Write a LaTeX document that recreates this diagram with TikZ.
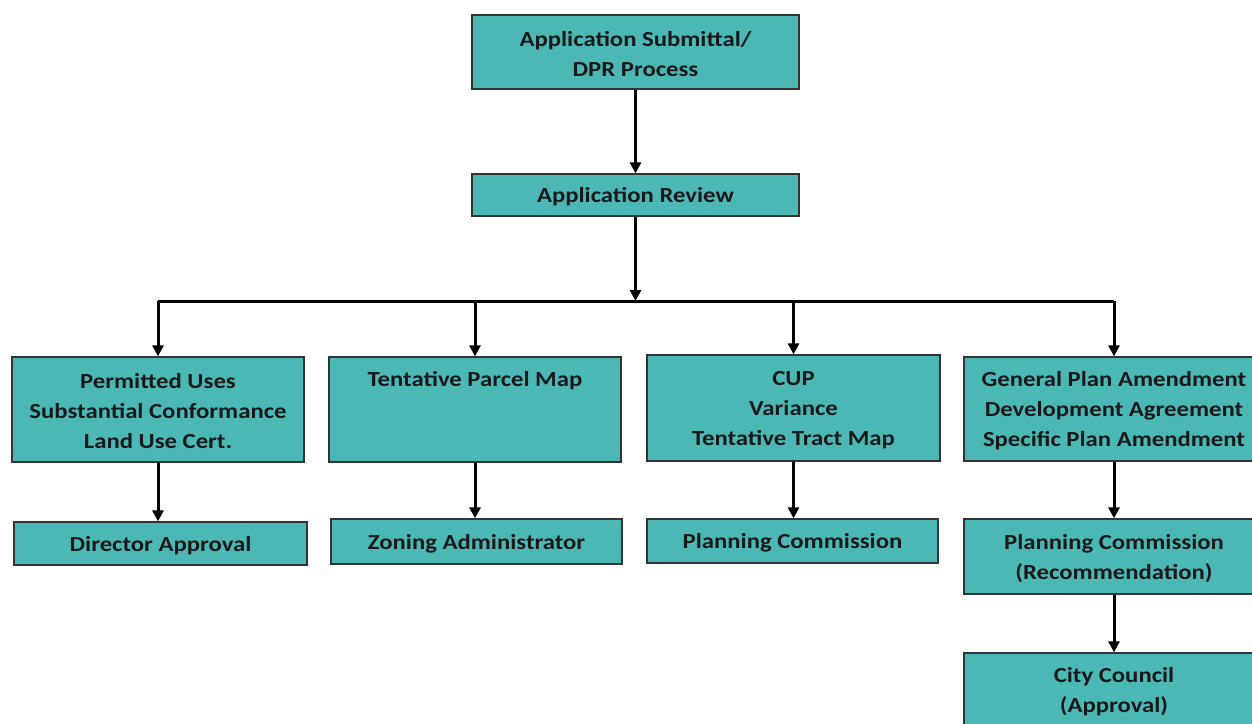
\documentclass[tikz,border=0pt]{standalone}
\usepackage{fontspec}
\setmainfont{Carlito}[FakeStretch=1.15]
\usetikzlibrary{arrows.meta}
\definecolor{tealbox}{HTML}{4BB8B6}
\newcommand{\lowr}{\rule{0pt}{19pt}}
\begin{document}
\begin{tikzpicture}[x=1pt,y=-1pt,
 box/.style={draw=black!80, fill=tealbox, line width=1.3pt, inner sep=0pt, align=center,
   font=\bfseries\fontsize{21.5}{30}\selectfont, text=black!90},
 arr/.style={line width=3pt, -{Triangle[length=11pt,width=11pt]}},
 busline/.style={line width=3pt}]
\useasboundingbox (0,0) rectangle (1252,723);
\clip (0,0) rectangle (1252,723);
\node[box, minimum width=327, minimum height=74] (sub) at (635.5,52) {\lowr Application Submittal/\\DPR Process};
\node[box, minimum width=327, minimum height=42] (rev) at (635.5,195) {\lowr Application Review};
\coordinate (bus) at (635.5,301);
\node[box, minimum width=292, minimum height=105] (b1) at (158,409.5) {\lowr Permitted Uses\\Substantial Conformance\\Land Use Cert.};
\node[box, minimum width=292, minimum height=105] (b2) at (475,409.5) {\rule{0pt}{22pt}Tentative Parcel Map\\\strut\\\strut};
\node[box, minimum width=293, minimum height=106] (b3) at (793.5,408) {\lowr CUP\\Variance\\Tentative Tract Map};
\node[box, minimum width=300, minimum height=104] (b4) at (1114,409) {\lowr General Plan Amendment\\Development Agreement\\Specific Plan Amendment};
\node[box, minimum width=293, minimum height=43] (c1) at (160.5,543.5) {\lowr Director Approval};
\node[box, minimum width=291, minimum height=45] (c2) at (476.5,541.5) {\lowr Zoning Administrator};
\node[box, minimum width=291, minimum height=44] (c3) at (792.5,541) {\lowr Planning Commission};
\node[box, minimum width=300, minimum height=75] (c4) at (1114,556.5) {\lowr Planning Commission\\(Recommendation)};
\node[box, minimum width=300, minimum height=74] (d4) at (1114,690) {\lowr City Council\\(Approval)};
\draw[arr] (sub.south) -- (rev.north);
\draw[arr] (rev.south) -- (bus);
\draw[busline] (bus -| b1.north) -- (bus -| b4.north);
\foreach \n in {b1,b2,b3,b4} \draw[arr] (bus -| \n.north) -- (\n.north);
\foreach \a/\b in {b1/c1,b2/c2,b3/c3,b4/c4,c4/d4} \draw[arr] (\a.south) -- (\a.south |- \b.north);
\end{tikzpicture}
\end{document}
